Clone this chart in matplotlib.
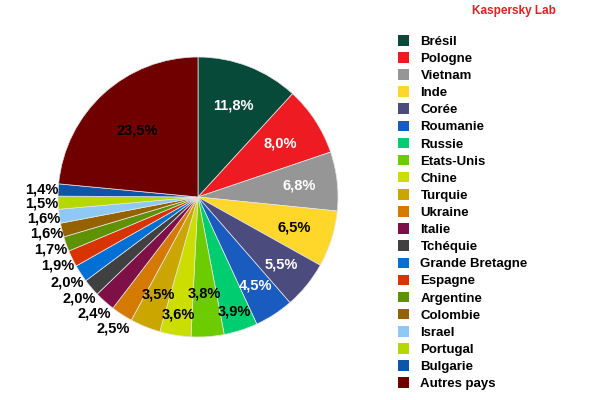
import numpy as np
import matplotlib
matplotlib.use("Agg")
import matplotlib.pyplot as plt

plt.rcParams["font.family"] = ["Liberation Sans", "DejaVu Sans"]

# données
pays = ["Brésil", "Pologne", "Vietnam", "Inde", "Corée", "Roumanie", "Russie",
        "Etats-Unis", "Chine", "Turquie", "Ukraine", "Italie", "Tchéquie",
        "Grande Bretagne", "Espagne", "Argentine", "Colombie", "Israel",
        "Portugal", "Bulgarie", "Autres pays"]
parts = [11.8, 8.0, 6.8, 6.5, 5.5, 4.5, 3.9, 3.8, 3.6, 3.5, 2.5, 2.4, 2.0,
         2.0, 1.9, 1.7, 1.6, 1.6, 1.5, 1.4, 23.5]

couleurs = ["#084A3A", "#EE1C22", "#969696", "#FFD72A", "#4B4C7D", "#1A5BBF",
            "#00CC70", "#6DCC00", "#CCDD00", "#CCA600", "#D47A00", "#7F0F47",
            "#404040", "#0070D5", "#D93300", "#5F9200", "#946300", "#8EC8F5",
            "#B5D800", "#0E55AA", "#700000"]

# rayon des étiquettes (fraction du rayon) et couleur du texte
rayon_etiq = [0.70, 0.70, 0.73, 0.72, 0.77, 0.75, 0.86, 0.69, 0.85, 0.75,
              1.115, 1.115, 1.115, 1.115, 1.115, 1.115, 1.115, 1.115, 1.115,
              1.115, 0.64]
blanc = {"Brésil", "Pologne", "Vietnam", "Corée", "Roumanie"}

fig = plt.figure(figsize=(6, 4), dpi=100)
ax = fig.add_axes([58 / 600, 1 - 337 / 400, 280 / 600, 280 / 400])

wedges, _ = ax.pie(parts, colors=couleurs, startangle=90, counterclock=False,
                   radius=1, wedgeprops=dict(edgecolor="#e6e6e6", linewidth=0.5))
ax.set_xlim(-1, 1)
ax.set_ylim(-1, 1)
ax.set_aspect("equal")
ax.axis("off")

# étiquettes en pourcentage
total = sum(parts)
cumul = np.cumsum([0] + parts[:-1])
for p, c, r, nom in zip(parts, cumul, rayon_etiq, pays):
    ang = np.deg2rad(90 - (c + p / 2) / total * 360)
    txt = f"{p:.1f}%".replace(".", ",")
    col = "white" if nom in blanc else "black"
    ax.text(r * np.cos(ang), r * np.sin(ang), txt, ha="center", va="center",
            fontsize=10.5, fontweight="bold", color=col, clip_on=False)

# légende
leg = fig.legend(wedges, pays, loc="upper left",
                 bbox_to_anchor=(398 / 600, 1 - 35 / 400),
                 frameon=False, prop={"weight": "bold", "size": 9.5},
                 handlelength=0.85, handleheight=0.85, handletextpad=0.85,
                 labelspacing=0.325, borderpad=0, borderaxespad=0)
for h in leg.legend_handles:
    h.set_edgecolor("none")

fig.text(514 / 600, 1 - 11 / 400, "Kaspersky Lab", ha="center", va="center",
         fontsize=8.5, fontweight="bold", color="#E31E24")

fig.savefig("out.png", dpi=100)
